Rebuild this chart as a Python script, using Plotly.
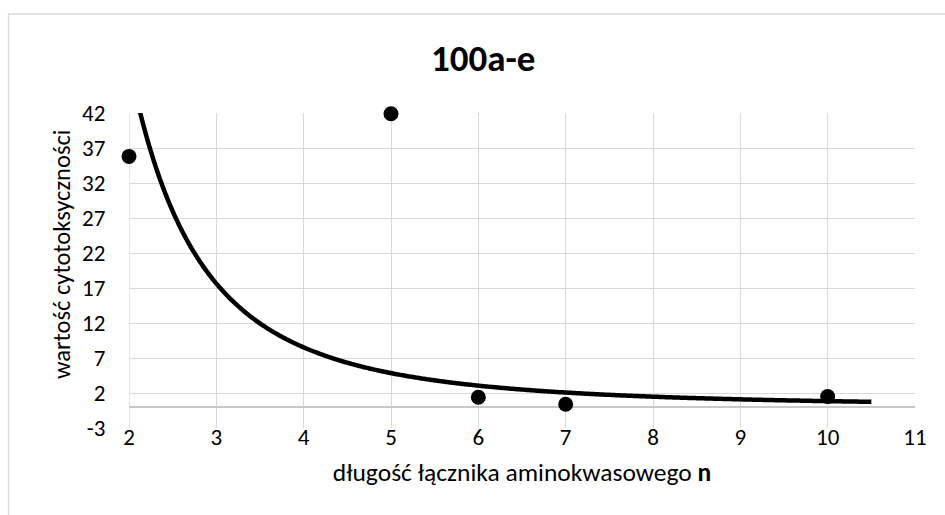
import numpy as np
import plotly.graph_objects as go

# Linker length n and measured cytotoxicity for compounds 100a-e
n_values = [2, 5, 6, 7, 10]
cytotoxicity = [35.8, 41.9, 1.4, 0.4, 1.5]

# Tick values shown on the axes
x_ticks = [2, 3, 4, 5, 6, 7, 8, 9, 10, 11]
y_ticks = [-3, 2, 7, 12, 17, 22, 27, 32, 37, 42]

# Power trendline y = a * x^b (least squares in log-log space), extended forward to 10.5
lx = np.log(np.array(n_values, dtype=float))
ly = np.log(np.array(cytotoxicity, dtype=float))
b, ln_a = np.polyfit(lx, ly, 1)
a = np.exp(ln_a)
trend_x = np.linspace(2, 10.5, 600)
trend_y = a * trend_x ** b

FONT = "Carlito, Lato, sans-serif"
GRID = "#d9d9d9"

fig = go.Figure()
fig.add_trace(go.Scatter(
    x=trend_x, y=trend_y, mode="lines",
    line=dict(color="black", width=4.5, simplify=False),
    hoverinfo="skip", showlegend=False,
))
fig.add_trace(go.Scatter(
    x=n_values, y=cytotoxicity, mode="markers",
    marker=dict(color="black", size=15, line=dict(width=0)),
    cliponaxis=False, showlegend=False,
))

L, R, T, B = 129, 30, 113, 87
W, H = 945, 515
pw, ph = W - L - R, H - T - B

def px_x(p):
    return (p - L) / pw

def px_y(p):
    return (H - B - p) / ph

fig.update_layout(
    width=W, height=H, autosize=False,
    margin=dict(l=L, r=R, t=T, b=B, pad=0),
    paper_bgcolor="white", plot_bgcolor="white",
    font=dict(family=FONT, color="#000000"),
    xaxis=dict(
        range=[2, 11], tickvals=x_ticks, ticktext=[str(v) for v in x_ticks],
        showgrid=True, gridcolor=GRID, gridwidth=1.3,
        zeroline=False, showline=False,
        ticks="", ticklabelstandoff=-7,
        tickfont=dict(size=23, family=FONT, color="#000000"),
        title=dict(text="długość łącznika aminokwasowego <b>n</b>",
                   font=dict(size=25.5, family=FONT, color="#000000"), standoff=13),
        fixedrange=True,
    ),
    yaxis=dict(
        range=[-3, 42], tickvals=y_ticks, ticktext=[str(v) for v in y_ticks],
        showgrid=True, gridcolor=GRID, gridwidth=1.3,
        zeroline=True, zerolinecolor="#c8c8c8", zerolinewidth=1.5,
        showline=False,
        ticks="outside", ticklen=18, tickcolor="rgba(0,0,0,0)",
        tickfont=dict(size=23, family=FONT, color="#000000"),
        fixedrange=True,
    ),
    shapes=[
        # value axis line at n = 2
        dict(type="line", xref="x", yref="paper", x0=2, x1=2, y0=0, y1=1,
             line=dict(color=GRID, width=1.3), layer="below"),
        # chart area border
        dict(type="rect", xref="paper", yref="paper",
             x0=px_x(8.5), x1=px_x(960), y0=px_y(530), y1=px_y(14),
             line=dict(color=GRID, width=1.3), fillcolor="rgba(0,0,0,0)"),
    ],
    annotations=[
        dict(text="<b>100a-e</b>", xref="paper", yref="paper",
             x=px_x(483), y=px_y(59), xanchor="center", yanchor="middle",
             showarrow=False, font=dict(size=37, family=FONT, color="#000000")),
        # value axis title
        dict(text="wartość cytotoksyczności", xref="paper", yref="paper",
             x=px_x(62), y=px_y(255), xanchor="center", yanchor="middle",
             textangle=-90, showarrow=False,
             font=dict(size=24.5, family=FONT, color="#000000")),
    ],
)

fig.write_html("out.html")
